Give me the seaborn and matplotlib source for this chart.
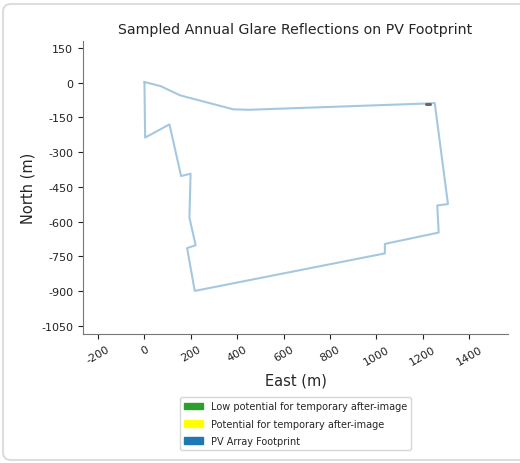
import matplotlib
matplotlib.use("Agg")
import matplotlib.pyplot as plt
import matplotlib.patches as mpatches
import matplotlib.transforms as mtransforms
import seaborn as sns
import pandas as pd

# PV footprint outline (east, north in metres), closed polygon
footprint_east = [0, 70, 155, 383, 450, 1213, 1252, 1309, 1263, 1269, 1037, 1037,
                  217, 184, 221, 194, 199, 158, 108, 3, 0]
footprint_north = [3, -15, -55, -115, -117, -90, -88, -524, -530, -647, -696, -737,
                   -899, -714, -702, -583, -393, -403, -180, -237, 3]

# sampled glare reflection points
glare_east = [1213, 1222, 1232]
glare_north = [-91, -91, -91]

legend_labels = ["Low potential for temporary after-image",
                 "Potential for temporary after-image",
                 "PV Array Footprint"]
legend_colors = ["tab:green", "yellow", "tab:blue"]

xticks = [-200, 0, 200, 400, 600, 800, 1000, 1200, 1400]
yticks = [150, 0, -150, -300, -450, -600, -750, -900, -1050]

sns.set_style("ticks")
plt.rcParams["font.family"] = ["DejaVu Sans"]
plt.rcParams["axes.unicode_minus"] = False

fig = plt.figure(figsize=(5.2, 4.64), dpi=100)
ax = fig.add_axes([83 / 520, (464 - 335) / 464, 425 / 520, 293 / 464])

df = pd.DataFrame({"East": footprint_east, "North": footprint_north})
sns.lineplot(data=df, x="East", y="North", sort=False, estimator=None,
             color="tab:blue", alpha=0.4, linewidth=1.5, ax=ax)
gl = pd.DataFrame({"East": glare_east, "North": glare_north})
sns.lineplot(data=gl, x="East", y="North", sort=False, estimator=None,
             color="#7a6458", linewidth=2.2, ax=ax)

ax.set_xlim(-265, 1568)
ax.set_ylim(-1085, 180)
ax.set_xticks(xticks)
ax.set_xticklabels([str(v) for v in xticks], rotation=30, fontsize=8)
ax.set_yticks(yticks)
ax.set_yticklabels([str(v) for v in yticks], fontsize=8)
ax.set_xlabel("East (m)", fontsize=10.5)
ax.set_ylabel("North (m)", fontsize=10.5)
ax.set_title("Sampled Annual Glare Reflections on PV Footprint", fontsize=10.2)
sns.despine(ax=ax)
for s in ["left", "bottom"]:
    ax.spines[s].set_color("#777777")
    ax.spines[s].set_linewidth(0.8)
ax.tick_params(colors="#222222", length=3.5, width=0.8)

handles = [mpatches.Patch(color=c, label=l) for c, l in zip(legend_colors, legend_labels)]
ax.legend(handles=handles, loc="upper center", bbox_to_anchor=(0.5, -0.2),
          fontsize=7, frameon=True, handlelength=2, labelspacing=0.75)

frame = mpatches.FancyBboxPatch((3, 3), 540, 456,
                                boxstyle="round,pad=0,rounding_size=8",
                                transform=mtransforms.IdentityTransform(),
                                facecolor="none", edgecolor="#dddddd", linewidth=1.5)
fig.add_artist(frame)

fig.savefig("out.png", dpi=100)
